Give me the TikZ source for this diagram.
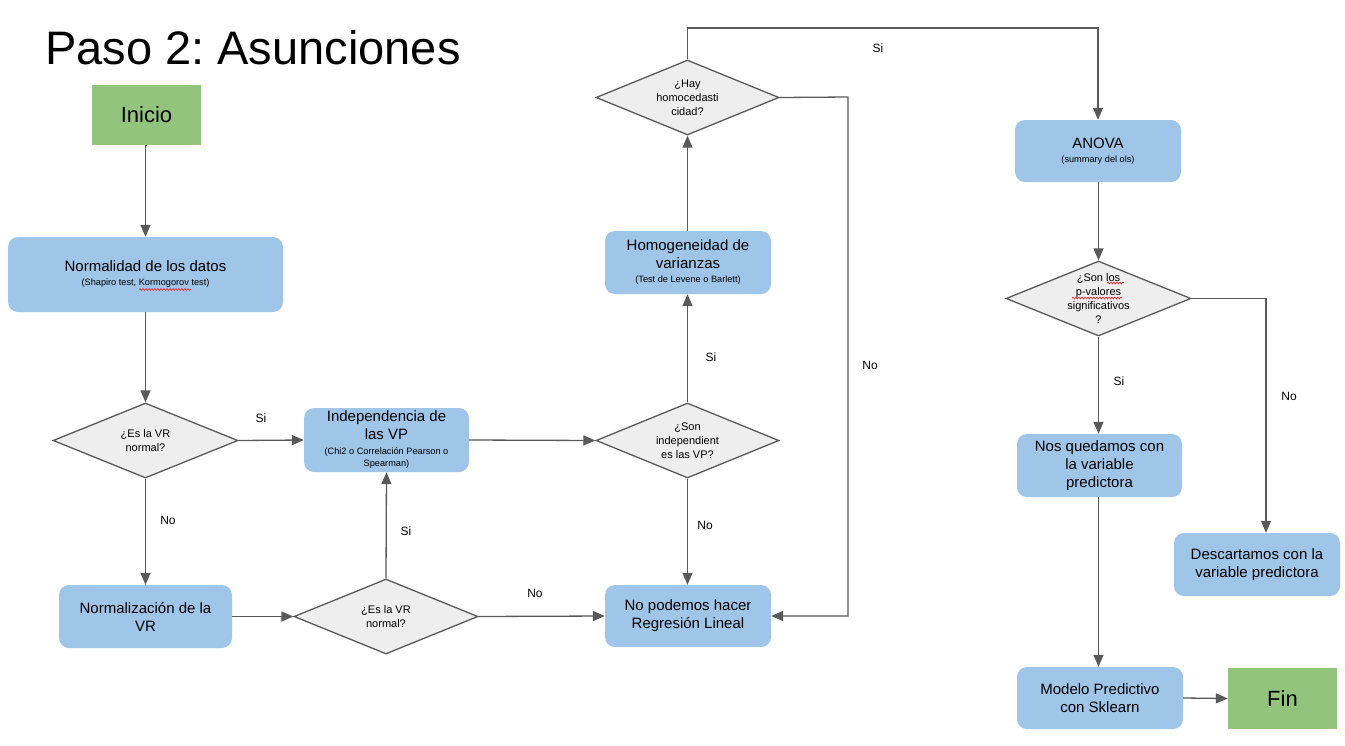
\documentclass[tikz,border=0pt]{standalone}
\usepackage{fontspec}
\setmainfont{Liberation Sans}
\usetikzlibrary{arrows.meta,shapes.geometric,decorations.pathmorphing}
\definecolor{boxblue}{HTML}{9FC5E8}
\definecolor{startgreen}{HTML}{93C47D}
\definecolor{diafill}{HTML}{EEEEEE}
\definecolor{linegray}{HTML}{595959}
\definecolor{spellred}{HTML}{E03030}
\newcommand{\mainsz}{\fontsize{15}{18}\selectfont}
\newcommand{\subsz}{\fontsize{9.2}{11}\selectfont}
\frenchspacing
\begin{document}
\begin{tikzpicture}[x=1pt,y=-1pt,
  box/.style={rectangle,rounded corners=10pt,fill=boxblue,inner sep=0pt,align=center,font=\mainsz},
  term/.style={rectangle,fill=startgreen,inner sep=0pt,font=\fontsize{22}{26}\selectfont,minimum width=109pt,minimum height=60pt},
  dia/.style={diamond,draw=linegray,line width=1.3pt,fill=diafill,inner sep=0pt,minimum width=185pt,minimum height=75pt},
  dtext/.style={align=center,font=\fontsize{11}{14}\selectfont,inner sep=0pt},
  conn/.style={draw=linegray,line width=1.3pt,-{Triangle[length=12pt,width=10pt]}},
  lbl/.style={font=\fontsize{12}{14}\selectfont,inner sep=0pt},
  spell/.style={draw=spellred,line width=0.7pt,decorate,decoration={snake,amplitude=0.9pt,segment length=3pt}}]
\useasboundingbox (0,0) rectangle (1345,745);
\fill[white] (0,0) rectangle (1345,745);

% title
\node[anchor=base west,inner sep=0pt,font=\fontsize{47}{52}\selectfont] (title) at (45,64) {Paso 2: Asunciones};

% nodes
\node[term] (inicio) at (146.5,115) {Inicio};
\node[box,minimum width=275pt,minimum height=75pt] (norm) at (145.5,274.5)
  {Normalidad de los datos\\[-4pt]{\subsz (Shapiro test, Kormogorov test)}};
\node[dia] (d1) at (145.5,440.5) {};
\node[dtext] (d1t) at (d1) {¿Es la VR\\normal?};
\node[box,minimum width=165pt,minimum height=64pt] (ind) at (386.5,440)
  {Independencia de\\las VP\\[-3pt]{\subsz (Chi2 o Correlación Pearson o}\\[-6pt]{\subsz Spearman)}};
\node[dia,minimum width=183pt] (d2) at (687.5,440.5) {};
\node[dtext] (d2t) at (d2) {¿Son\\independient\\es las VP?};
\node[box,minimum width=173pt,minimum height=63pt] (normz) at (145.5,616.5) {Normalización de la\\VR};
\node[dia,minimum width=184pt] (d3) at (386,616.5) {};
\node[dtext] (d3t) at (d3) {¿Es la VR\\normal?};
\node[box,minimum width=166pt,minimum height=62pt] (nopod) at (688,616) {No podemos hacer\\Regresión Lineal};
\node[box,minimum width=166pt,minimum height=63pt] (homo) at (688,262.5)
  {Homogeneidad de\\varianzas\\[-4pt]{\subsz (Test de Levene o Barlett)}};
\node[dia,minimum width=183pt] (dh) at (687.5,97.5) {};
\node[dtext] (dht) at (dh) {¿Hay\\homocedasti\\cidad?};
\node[box,minimum width=166pt,minimum height=62pt] (anova) at (1098,151)
  {ANOVA\\[-4pt]{\subsz (summary del ols)}};
\node[dia] (pv) at (1098.5,298.5) {};
\node[dtext] (pvt) at (pv) {¿Son los\\p-valores\\significativos\\?};
\node[box,minimum width=165pt,minimum height=63pt] (nosq) at (1099.5,465.5) {Nos quedamos con\\la variable\\predictora};
\node[box,minimum width=166pt,minimum height=63pt] (desc) at (1257,564.5) {Descartamos con la\\variable predictora};
\node[box,minimum width=166pt,minimum height=62pt] (modelo) at (1100,698) {Modelo Predictivo\\con Sklearn};
\node[term,minimum height=61pt] (fin) at (1282.5,698.5) {Fin};

% helper coordinates
\coordinate (hr) at (848,97);
\coordinate (pr) at (1266,298.5);
\coordinate (top) at (687.5,28);

% connectors
\draw[conn] (inicio.south) -- (norm.south |- inicio.south) -- (norm.north);
\draw[conn] (norm.south) -- (d1.north);
\draw[conn] (d1.east) -- (ind.west);
\draw[conn] (d1.south) -- (normz.north);
\draw[conn] (normz.east) -- (d3.west);
\draw[conn] (d3.north) -- (ind.south);
\draw[conn] (d3.east) -- (nopod.west);
\draw[conn] (ind.east) -- (d2.west);
\draw[conn] (d2.south) -- (nopod.north -| d2.south);
\draw[conn] (d2.north) -- (homo.south -| d2.north);
\draw[conn] (homo.north -| dh.south) -- (dh.south);
\draw[conn] (dh.north) -- (top) -| (anova.north);
\draw[conn] (dh.east) -- (hr) |- (nopod.east);
\draw[conn] (anova.south -| pv.north) -- (pv.north);
\draw[conn] (pv.south) -- (nosq.north -| pv.south);
\draw[conn] (pv.east) -- (pr) -- (pr |- desc.north);
\draw[conn] (nosq.south -| pv.south) -- (modelo.north -| pv.south);
\draw[conn] (modelo.east) -- (fin.west);

% labels
\node[lbl] (l1) at (261,418) {Si};
\node[lbl] (l2) at (168,520) {No};
\node[lbl] (l3) at (406,531) {Si};
\node[lbl] (l4) at (535,593) {No};
\node[lbl] (l5) at (705,525) {No};
\node[lbl] (l6) at (711,357) {Si};
\node[lbl] (l7) at (878,48) {Si};
\node[lbl] (l8) at (870,365) {No};
\node[lbl] (l9) at (1119,381) {Si};
\node[lbl] (l10) at (1289,396) {No};

% spell-check marks
\draw[spell] (139,289.5) -- (191,289.5);
\draw[spell] (1107,283) -- (1124,283);
\draw[spell] (1072,298) -- (1122,298);
\end{tikzpicture}
\end{document}
